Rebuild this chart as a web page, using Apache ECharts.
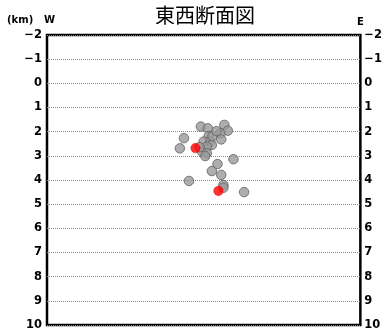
<!DOCTYPE html>
<html>
<head>
<meta charset="utf-8">
<script src="https://cdn.jsdelivr.net/npm/echarts@6/dist/echarts.min.js"></script>
<style>
  html, body { margin: 0; padding: 0; background: #fff; }
  #chart { width: 385px; height: 332px; }
</style>
</head>
<body>
<div id="chart"></div>
<script>
// Depth ticks (km), shallow at the top
const depthTicks = [-2, -1, 0, 1, 2, 3, 4, 5, 6, 7, 8, 9, 10];

// Hypocentres: horizontal position (0 = west edge, 100 = east edge) and depth in km
const quakeX = [49.1, 51.3, 56.6, 57.7, 55.3, 51.6, 43.7, 55.6, 50.0, 52.1, 52.6, 51.0, 42.4,
                49.5, 51.0, 50.5, 59.5, 54.4, 52.6, 55.6, 45.3, 56.3, 56.3, 62.9, 52.8, 48.7, 54.1];
const quakeDepth = [1.79, 1.86, 1.72, 1.96, 2.07, 2.18, 2.27, 2.32, 2.41, 2.41, 2.55, 2.62, 2.69,
                    2.83, 2.89, 3.01, 3.14, 3.34, 3.63, 3.79, 4.04, 4.21, 4.32, 4.50, 2.18, 2.64, 1.98];

// Highlighted events
const mainX = [47.4, 54.7];
const mainDepth = [2.68, 4.45];

const pairs = (xs, ys) => xs.map((x, i) => [x, ys[i]]);

const labelFont = {
  fontFamily: 'DejaVu Sans',
  fontWeight: 'bold',
  fontSize: 11.5,
  color: '#000',
  formatter: v => String(v).replace('-', '\u2212')
};

const chart = echarts.init(document.getElementById('chart'));
chart.setOption({
  animation: false,
  grid: {
    left: 47, right: 22, top: 35, bottom: 7,
    show: true, borderColor: '#000', borderWidth: 2.5, backgroundColor: '#fff'
  },
  xAxis: {
    type: 'value', min: 0, max: 100,
    axisLine: { show: false }, axisTick: { show: false },
    axisLabel: { show: false }, splitLine: { show: false }
  },
  yAxis: [
    {
      type: 'value', inverse: true, min: depthTicks[0], max: depthTicks[depthTicks.length - 1], interval: 1,
      axisLine: { show: false }, axisTick: { show: false },
      axisLabel: Object.assign({ margin: 5 }, labelFont),
      splitLine: { show: true, lineStyle: { color: '#888', width: 1, type: [1, 1] } }
    },
    {
      type: 'value', inverse: true, min: depthTicks[0], max: depthTicks[depthTicks.length - 1], interval: 1,
      position: 'right',
      axisLine: { show: false }, axisTick: { show: false },
      axisLabel: Object.assign({ margin: 4 }, labelFont),
      splitLine: { show: false }
    }
  ],
  series: [
    {
      type: 'scatter', symbolSize: 9.5,
      itemStyle: { color: '#9a9a9a', borderColor: '#606060', borderWidth: 1 },
      data: pairs(quakeX, quakeDepth), z: 3
    },
    {
      type: 'scatter', symbolSize: 9.5,
      itemStyle: { color: '#ff0000', borderColor: '#ee0000', borderWidth: 0.5 },
      data: pairs(mainX, mainDepth), z: 4
    }
  ],
  graphic: [
    { type: 'text', left: 155, top: 5,
      style: { text: '東西断面図', font: '20px "Noto Sans CJK JP"', fill: '#000' } },
    { type: 'text', left: 7, top: 15,
      style: { text: '(km)', font: 'bold 10px "DejaVu Sans"', fill: '#000' } },
    { type: 'text', left: 44, top: 15,
      style: { text: 'W', font: 'bold 10px "DejaVu Sans"', fill: '#000' } },
    { type: 'text', left: 357, top: 17,
      style: { text: 'E', font: 'bold 10px "DejaVu Sans"', fill: '#000' } }
  ]
});
</script>
</body>
</html>
